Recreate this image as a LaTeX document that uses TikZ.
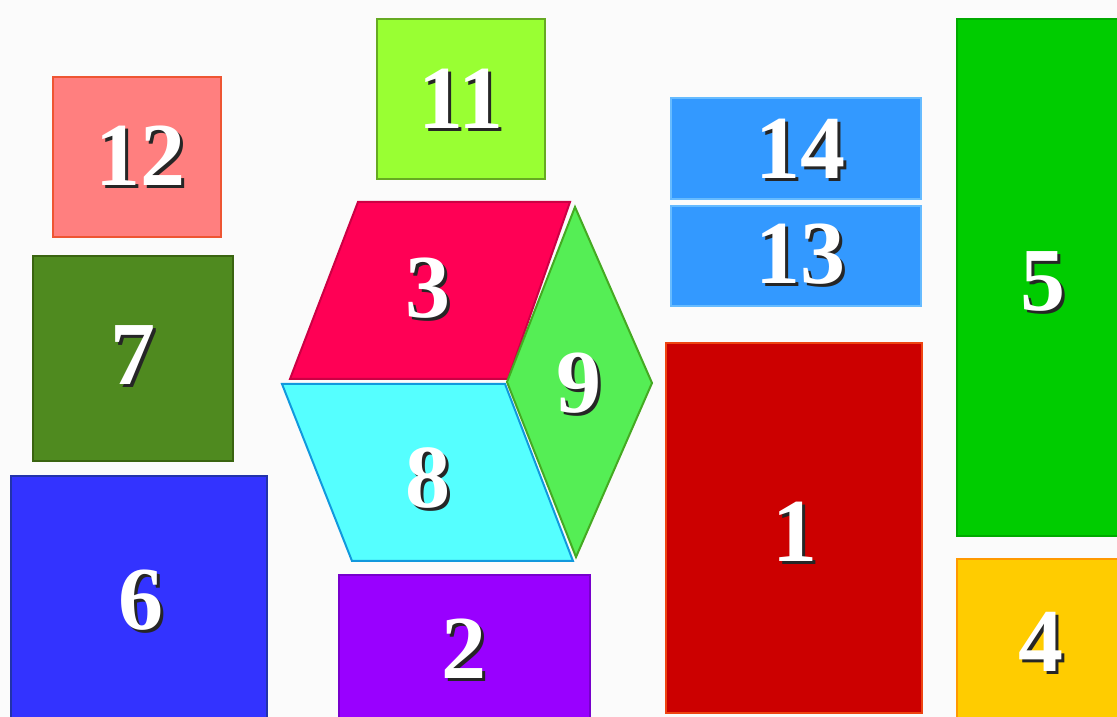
\documentclass[tikz,border=0pt]{standalone}
\usepackage{fontspec}
\setmainfont{Liberation Serif}
\definecolor{c12f}{HTML}{FF7F7F}\definecolor{c12d}{HTML}{EE5533}
\definecolor{c7f}{HTML}{4F8A1F}\definecolor{c7d}{HTML}{3A6410}
\definecolor{c6f}{HTML}{3333FF}\definecolor{c6d}{HTML}{2233AA}
\definecolor{c11f}{HTML}{99FF33}\definecolor{c11d}{HTML}{66AA22}
\definecolor{c3f}{HTML}{FF0055}\definecolor{c3d}{HTML}{CC0044}
\definecolor{c8f}{HTML}{55FFFF}\definecolor{c8d}{HTML}{1199DD}
\definecolor{c9f}{HTML}{55EE55}\definecolor{c9d}{HTML}{44AA22}
\definecolor{c2f}{HTML}{9900FF}\definecolor{c2d}{HTML}{7700CC}
\definecolor{c14f}{HTML}{3399FF}\definecolor{c14d}{HTML}{66BBFF}
\definecolor{c1f}{HTML}{CC0000}\definecolor{c1d}{HTML}{EE4411}
\definecolor{c5f}{HTML}{00CC00}\definecolor{c5d}{HTML}{00AA00}
\definecolor{c4f}{HTML}{FFCC00}\definecolor{c4d}{HTML}{FF9900}
\definecolor{bgc}{HTML}{FBFBFB}
\tikzset{
  piece/.style={line width=2pt, line join=miter},
  numtxt/.style={inner sep=0pt, text=white, font=\fontsize{90}{90}\selectfont\bfseries},
}
\newcommand{\shadowed}[1]{\rlap{\hspace{3pt}\raisebox{-3pt}{\textcolor{black!85}{#1}}}#1}
\newcommand{\numlabel}[3]{\node[numtxt] (#1) at (#2) {\shadowed{#3}};}
\begin{document}
\begin{tikzpicture}[x=1pt,y=1pt]
\useasboundingbox (0,0) rectangle (1117,717);
\fill[bgc] (0,0) rectangle (1117,717);
\begin{scope}
\clip (0,0) rectangle (1117,717);
% rectangles
\draw[piece, fill=c12f, draw=c12d] (53,480) rectangle (221,640);
\draw[piece, fill=c7f, draw=c7d] (33,256) rectangle (233,461);
\draw[piece, fill=c6f, draw=c6d] (11,-5) rectangle (267,241);
\draw[piece, fill=c11f, draw=c11d] (377,538) rectangle (545,698);
\draw[piece, fill=c2f, draw=c2d] (339,-5) rectangle (590,142);
\draw[piece, fill=c14f, draw=c14d] (671,518) rectangle (921,619);
\draw[piece, fill=c14f, draw=c14d] (671,411) rectangle (921,511);
\draw[piece, fill=c1f, draw=c1d] (666,4) rectangle (922,374);
\draw[piece, fill=c5f, draw=c5d] (957,181) rectangle (1125,698);
\draw[piece, fill=c4f, draw=c4d] (957,-5) rectangle (1125,158);
% parallelograms and rhombus
\draw[piece, fill=c3f, draw=c3d] (358,515) -- (570,515) -- (508,338) -- (290,338) -- cycle;
\draw[piece, fill=c8f, draw=c8d] (282,333) -- (505,333) -- (573,156) -- (352,156) -- cycle;
\draw[piece, fill=c9f, draw=c9d] (575,510) -- (652,334) -- (576,160) -- (507,335) -- cycle;
\end{scope}
% labels
\numlabel{n12}{140,560}{12}
\numlabel{n11}{461,617}{11}
\numlabel{n14}{800,567}{14}
\numlabel{n13}{800,461}{13}
\numlabel{n3}{428,427}{3}
\numlabel{n7}{133,360}{7}
\numlabel{n9}{579,332}{9}
\numlabel{n8}{428,237}{8}
\numlabel{n5}{1043,434}{5}
\numlabel{n1}{795,184}{1}
\numlabel{n6}{141,115}{6}
\numlabel{n2}{464,67}{2}
\numlabel{n4}{1041,74}{4}
\end{tikzpicture}
\end{document}
